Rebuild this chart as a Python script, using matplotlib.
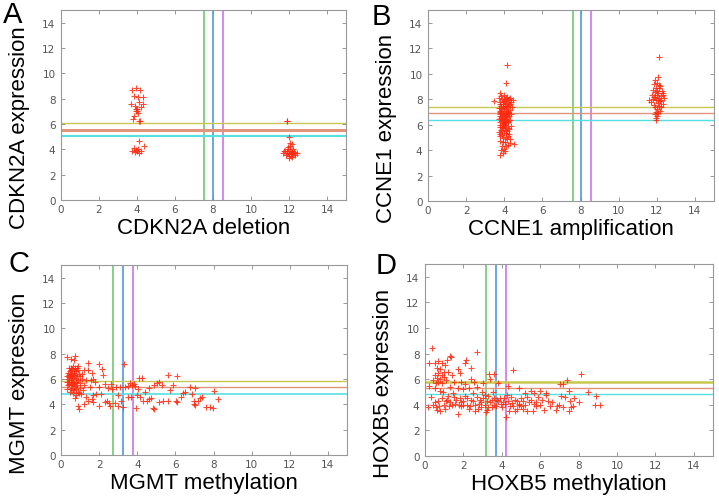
import numpy as np
import matplotlib.pyplot as plt

plt.rcParams['font.family'] = ['Liberation Sans', 'DejaVu Sans']

# ---- panel A: CDKN2A deletion vs expression
a_x = [3.75, 3.95, 4.15, 3.85, 4.05, 4.3, 3.7, 4.1, 4.3, 3.9, 4.2, 4.0, 3.95, 4.05, 3.85, 3.8, 4.1, 4.15, 3.95, 4.0,
       4.1, 4.35, 3.85, 3.75, 3.9, 4.0, 4.1, 4.2, 3.95, 4.05,
       11.9, 11.9, 12.0, 12.05, 12.15, 11.95, 12.2, 11.8, 11.7, 11.9, 12.0, 12.1, 12.2, 12.3, 12.4, 12.0, 12.1, 11.85,
       12.05, 12.15, 11.95, 12.25, 12.0, 12.1, 11.9, 12.3, 11.75, 12.05, 12.0, 12.15]
a_y = [8.65, 8.85, 8.65, 8.2, 8.1, 8.1, 7.6, 7.75, 7.6, 7.4, 7.35, 7.2, 7.05, 6.9, 6.6, 6.4, 6.25, 6.2, 7.15, 7.0,
       4.65, 4.25, 4.1, 3.85, 3.8, 3.9, 3.75, 3.85, 3.95, 4.0,
       6.25, 6.2, 5.0, 4.5, 4.45, 4.2, 4.05, 3.85, 3.7, 3.7, 3.6, 3.75, 3.6, 3.75, 3.7, 3.45, 3.5, 3.55,
       3.85, 3.9, 4.0, 3.8, 3.7, 3.65, 3.9, 3.55, 3.9, 4.3, 3.3, 3.4]

# ---- panel B: CCNE1 amplification vs expression
b_x = [3.45, 4.15, 4.1, 4.5, 4.3, 3.8, 3.95, 4.05, 4.0, 3.85, 3.9, 4.2, 4.05, 3.8, 4.15, 3.95, 4.3, 3.75, 4.1, 3.9,
       4.0, 4.25, 3.7, 4.15, 3.85, 3.95, 4.05, 4.2, 4.35, 3.75, 3.9, 4.0, 4.1, 4.2, 3.8, 3.95, 4.05, 4.3, 3.7, 3.85,
       4.0, 4.15, 4.25, 3.9, 4.05, 3.75, 4.35, 4.1, 3.95, 4.2, 3.8, 4.0, 4.3, 3.9, 4.1, 3.7, 4.2, 4.4, 3.85, 4.05,
       4.25, 3.75, 3.95, 4.15, 4.35, 3.8, 4.0, 4.2, 4.45, 3.9, 4.1, 4.3, 3.7, 3.85, 4.0, 3.8, 4.15, 3.95, 4.1, 3.9,
       4.2, 3.85, 4.0, 4.15, 3.95, 4.1, 4.0, 3.9, 4.1, 4.0, 3.8, 4.2, 3.95, 4.1, 4.0, 3.9, 4.05, 4.2, 3.8, 4.3,
       3.75, 4.05, 3.95, 4.25, 3.85, 4.15, 4.0, 3.9, 4.1, 4.25, 3.8,
       12.1, 12.05, 11.9, 12.0, 11.85, 12.15, 11.95, 12.1, 11.8, 12.25, 11.9, 12.05, 12.35, 11.75, 12.0, 12.2, 11.85,
       12.1, 12.4, 11.6, 11.95, 12.15, 11.7, 12.05, 12.3, 11.85, 12.1, 12.2, 11.9, 12.0, 12.15, 11.95, 12.05, 11.9,
       12.0, 11.95, 11.98, 12.2, 11.8, 12.0, 12.1, 11.9, 12.3, 12.05]
b_y = [7.85, 10.7, 9.3, 4.5, 4.55, 3.6, 3.8, 3.9, 4.1, 4.0, 4.3, 4.4, 4.6, 4.7, 4.85, 4.95, 4.9, 5.1, 5.0, 5.2,
       5.35, 5.3, 5.4, 5.5, 5.6, 5.7, 5.8, 5.75, 5.9, 5.85, 6.0, 6.05, 6.1, 6.2, 6.2, 6.3, 6.35, 6.4, 6.45, 6.5,
       6.55, 6.6, 6.65, 6.7, 6.8, 6.85, 6.85, 6.9, 6.95, 7.0, 7.05, 7.1, 7.15, 7.2, 7.25, 7.3, 7.35, 7.4, 7.45, 7.5,
       7.55, 7.6, 7.65, 7.7, 7.75, 7.8, 7.85, 7.9, 7.95, 8.0, 8.05, 8.1, 8.1, 8.25, 8.3, 8.45, 8.2, 6.1, 6.45, 6.6,
       6.3, 6.9, 7.3, 7.1, 7.5, 7.6, 6.7, 5.5, 5.6, 5.9, 5.3, 5.1, 4.6, 4.3, 6.2, 6.4, 6.0, 6.9, 6.7, 7.6,
       7.0, 7.9, 7.75, 8.0, 7.3, 6.75, 6.5, 5.85, 5.35, 5.65, 5.95,
       11.3, 9.75, 9.5, 9.3, 9.15, 9.0, 8.9, 8.85, 8.7, 8.65, 8.55, 8.5, 8.45, 8.35, 8.3, 8.25, 8.15,
       8.1, 8.05, 7.95, 7.9, 7.85, 7.75, 7.7, 7.65, 7.55, 7.5, 7.4, 7.35, 7.2, 7.1, 7.0, 6.9, 6.8,
       6.65, 6.5, 6.35, 7.9, 8.0, 8.6, 9.1, 8.2, 8.3, 7.95]

# ---- panel C: MGMT methylation vs expression
c_x = [0.3, 0.5, 0.75, 0.7, 0.9, 0.6, 0.5, 0.4, 0.8, 1.4, 1.4, 1.2, 2.0, 2.15, 1.65, 1.7, 2.2, 3.3, 1.0, 1.1,
       1.3, 1.55, 1.8, 2.3, 2.6, 2.0, 1.5, 1.2, 1.0, 0.9, 0.8, 1.05, 1.3, 1.6, 1.7, 1.85, 2.1, 2.4, 2.5, 2.55,
       2.3, 2.0, 1.7, 0.9, 0.95, 1.4, 1.2, 2.85, 3.0, 3.0, 3.15, 3.25, 3.35, 3.5, 3.6, 3.65, 3.5, 3.7, 3.85, 3.9,
       4.05, 4.1, 4.25, 4.0, 4.15, 3.95, 4.3, 4.5, 4.6, 4.7, 4.85, 4.9, 4.4, 4.6, 4.9, 5.05, 5.15, 5.3, 5.15, 5.35,
       5.6, 5.7, 5.6, 5.85, 6.1, 6.05, 6.1, 6.3, 6.4, 6.5, 6.75, 6.85, 6.95, 7.0, 7.05, 7.2, 7.3, 7.4, 7.05, 7.6,
       7.8, 7.95, 8.05, 8.25, 2.7, 2.9, 3.1, 2.45,
       0.3, 0.35, 0.4, 0.45, 0.5, 0.55, 0.6, 0.65, 0.7, 0.75, 0.8, 0.85, 0.9, 0.95, 0.5, 0.6, 0.7, 0.4, 0.3, 0.45,
       0.8, 0.55, 0.65, 0.75, 0.85, 0.35, 0.55, 0.6, 0.7, 0.8, 0.9, 1.0, 0.4, 0.5, 0.65, 0.75, 0.35, 0.95, 0.45, 0.7,
       0.6, 0.85, 0.5, 0.4, 0.3, 0.65, 0.75, 0.55, 1.1, 1.15]
c_y = [7.7, 7.6, 7.85, 7.5, 7.0, 6.8, 6.5, 6.3, 6.6, 7.25, 6.7, 6.7, 7.2, 6.8, 6.45, 6.0, 6.3, 7.2, 6.2, 6.0,
       5.95, 5.9, 5.8, 5.6, 5.6, 5.4, 5.4, 5.5, 5.3, 5.0, 4.7, 4.85, 4.6, 4.4, 4.2, 4.8, 4.85, 4.3, 4.1, 3.85,
       4.2, 3.9, 4.7, 3.85, 3.6, 4.3, 4.05, 4.1, 3.9, 4.7, 4.3, 3.8, 5.35, 5.45, 5.7, 4.55, 4.6, 5.5, 5.6, 5.45,
       5.25, 6.05, 6.1, 4.7, 4.6, 3.75, 4.3, 4.25, 4.45, 4.5, 3.75, 3.65, 5.0, 5.3, 5.5, 5.7, 5.8, 5.5, 4.2, 4.25,
       4.3, 5.1, 6.3, 5.5, 6.25, 4.25, 4.15, 4.6, 4.9, 5.0, 5.35, 4.8, 4.3, 4.0, 3.95, 4.3, 4.5, 4.6, 5.3, 3.8,
       3.8, 3.75, 5.05, 4.45, 5.2, 5.35, 5.4, 5.3,
       6.2, 6.0, 5.8, 6.6, 6.2, 5.9, 6.4, 6.1, 5.7, 6.3, 6.0, 5.5, 6.7, 6.4, 5.5, 5.3, 5.1, 5.6, 5.2, 5.0,
       5.2, 6.9, 7.0, 6.9, 6.85, 6.5, 6.7, 5.7, 6.6, 5.8, 5.9, 5.7, 6.9, 5.8, 4.9, 4.5, 5.5, 4.9, 6.3, 6.35,
       6.05, 6.2, 6.45, 6.15, 5.8, 5.6, 5.45, 5.25, 6.4, 5.1]

# ---- panel D: HOXB5 methylation vs expression
d_x = [0.35, 0.2, 0.5, 0.7, 0.9, 1.05, 1.3, 1.35, 1.15, 2.15, 2.1, 2.7, 2.4, 1.7, 1.8, 0.6, 0.8, 1.0, 0.7, 0.5,
       0.9, 0.6, 0.8, 1.0, 1.2, 1.4, 0.4, 0.7, 0.9, 0.55, 1.1, 1.5, 1.9, 2.1, 2.4, 2.55, 3.0, 3.4, 3.35, 3.6,
       3.8, 4.6, 0.2, 0.5, 0.8, 1.3, 1.7, 2.0, 2.3, 2.7, 2.95, 4.3, 4.9, 5.2, 5.5, 5.7, 6.0, 6.3, 7.05, 7.2,
       7.4, 8.15, 7.5, 7.1, 7.3, 7.55, 7.75, 8.5, 8.9, 8.85, 9.1, 8.0, 7.6, 7.5, 7.7, 7.0, 6.9, 6.8, 6.4, 6.2,
       6.0, 5.8, 5.6, 5.3, 5.0, 4.8, 4.6, 4.45, 4.4, 4.2, 4.15, 4.05, 3.9, 3.75, 3.6, 3.5, 3.3, 3.2, 3.25, 3.1,
       2.9, 2.75, 2.6, 2.5, 2.35, 2.2, 2.0, 1.85, 1.7, 1.55, 1.4, 1.25, 1.1, 1.0, 0.8, 0.6, 0.4, 0.15, 0.5, 0.7,
       0.9, 1.2, 1.5, 1.8, 2.1, 2.4, 2.7, 3.0, 3.3, 3.6, 3.8, 4.1, 4.3, 4.5, 4.7, 4.9, 5.1, 5.3, 5.5, 5.7,
       5.9, 6.1, 6.3, 6.6, 4.9, 4.8, 5.0, 5.2, 5.4, 3.4, 3.5, 3.7, 2.8, 2.2, 1.9, 1.6, 1.3, 1.05, 0.75, 0.3,
       2.6, 2.9, 3.15, 3.55, 4.0, 4.7, 5.1, 5.8, 6.5, 7.2, 1.45, 2.5, 0.95, 2.0, 2.3, 1.15, 0.55, 4.25, 3.95, 4.55,
       3.25, 2.85, 1.75]
d_y = [8.45, 7.25, 7.3, 7.4, 7.3, 7.1, 7.8, 7.7, 7.5, 7.5, 7.3, 8.1, 6.9, 6.8, 6.5, 6.9, 6.8, 6.6, 6.5, 6.3,
       6.3, 6.1, 6.0, 6.2, 6.6, 6.3, 5.9, 5.8, 5.7, 5.7, 5.9, 5.8, 5.8, 5.6, 6.0, 5.8, 5.7, 6.0, 6.4, 6.4,
       5.7, 6.7, 5.5, 5.3, 5.1, 5.4, 5.3, 5.2, 5.3, 5.4, 5.0, 5.45, 5.35, 4.9, 5.05, 4.9, 5.1, 4.9, 5.6, 5.65,
       5.9, 6.4, 5.1, 4.7, 4.6, 4.3, 4.5, 5.0, 4.7, 4.0, 3.95, 4.2, 3.8, 3.5, 3.9, 4.0, 3.9, 3.6, 4.3, 3.6,
       4.0, 4.2, 3.55, 3.5, 3.9, 3.7, 3.9, 3.9, 3.5, 3.05, 4.1, 4.2, 4.5, 4.4, 4.0, 3.8, 3.8, 3.4, 3.6, 4.0,
       4.2, 3.7, 4.0, 4.3, 3.9, 4.0, 4.3, 3.9, 3.3, 4.1, 4.0, 3.9, 4.3, 4.0, 3.5, 3.6, 4.0, 3.8, 4.2, 4.3,
       4.5, 4.7, 4.6, 4.5, 4.7, 4.4, 4.6, 4.5, 4.7, 4.5, 4.3, 4.5, 4.3, 4.6, 4.4, 4.1, 4.3, 4.6, 4.4, 4.1,
       4.6, 4.4, 4.8, 4.2, 4.0, 4.3, 4.5, 4.0, 4.2, 4.2, 4.4, 3.9, 4.1, 4.5, 4.2, 4.4, 4.2, 3.7, 3.9, 4.6,
       3.5, 3.8, 4.8, 5.0, 3.8, 3.5, 3.7, 3.9, 3.9, 3.8, 4.9, 4.9, 5.0, 4.0, 3.7, 4.4, 3.8, 4.8, 4.1, 4.15,
       4.3, 4.4, 4.0]

# threshold lines (vertical: green, blue, violet; horizontal: yellow, salmon, cyan)
vlines = {'A': [7.5, 8.0, 8.5], 'B': [7.6, 8.05, 8.55], 'C': [2.75, 3.25, 3.75], 'D': [3.2, 3.7, 4.2]}
hlines = {'A': [6.05, 5.55, 5.05], 'B': [7.35, 6.9, 6.35], 'C': [5.85, 5.35, 4.85], 'D': [5.8, 5.3, 4.85]}

# letter, x, y, xlabel, ylabel, axes box in pixels (left, bottom, width, height), letter pos (x, cap top)
panels = [('A', a_x, a_y, 'CDKN2A deletion', 'CDKN2A expression', [61, 201, 285, 190], (3, 7)),
          ('B', b_x, b_y, 'CCNE1 amplification', 'CCNE1 expression', [428, 202, 286, 191], (372, 9)),
          ('C', c_x, c_y, 'MGMT methylation', 'MGMT expression', [61, 456, 286, 190], (8, 256)),
          ('D', d_x, d_y, 'HOXB5 methylation', 'HOXB5 expression', [425, 457, 288, 192], (376, 258))]

W, H = 719, 502
fig = plt.figure(figsize=(W / 100, H / 100), dpi=100)

vcols = ['#66c266', '#3f8fe0', '#c66ae6']
hcols = ['#c8c850', '#e0957a', '#55e0e0']
hwidths = {'A': [1.0, 2.2, 1.5], 'B': [1.0, 1.0, 1.0], 'C': [1.0, 1.0, 1.2], 'D': [1.8, 1.0, 1.0]}

for letter, xs, ys, xl, yl, (l, b, w, h), (lx, ly) in panels:
    ax = fig.add_axes([l / W, (H - b) / H, w / W, h / H])
    for v, c in zip(vlines[letter], vcols):
        ax.axvline(v, color=c, lw=1.1, zorder=1)
    for v, c, lw in zip(hlines[letter], hcols, hwidths[letter]):
        ax.axhline(v, color=c, lw=lw, zorder=1)
    ax.scatter(xs, ys, marker='+', s=24, color='#ff2a10', linewidths=0.8, alpha=0.85, zorder=2)
    ax.set_xlim(0, 15)
    ax.set_ylim(0, 15)
    ax.set_xticks(range(0, 15, 2))
    ax.set_yticks(range(0, 15, 2))
    ax.tick_params(direction='in', length=3, width=0.6, colors='#888888', labelcolor='#555555',
                   labelsize=7.5, top=True, right=True, pad=4)
    ax.tick_params(axis='x', pad=3)
    for lab in ax.get_xticklabels() + ax.get_yticklabels():
        lab.set_family('DejaVu Sans')
    for s in ax.spines.values():
        s.set_color('#999999')
        s.set_linewidth(0.8)
    ax.set_xlabel(xl, fontsize=16)
    ax.set_ylabel(yl, fontsize=16)
    ax.xaxis.set_label_coords(0.5, -17 / h)
    ax.yaxis.set_label_coords(-31 / w, 0.385)
    fig.text(lx / W, (H - ly + 6) / H, letter, fontsize=21, va='top', ha='left')

plt.savefig('out.png', dpi=100)
